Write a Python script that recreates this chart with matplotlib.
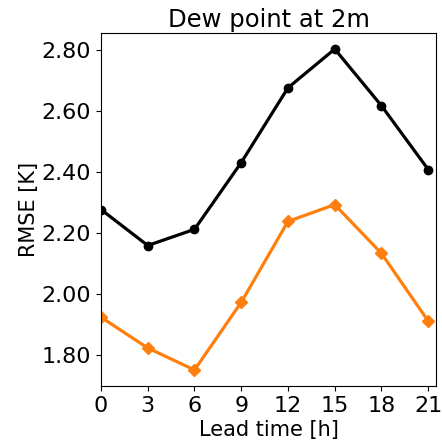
import numpy as np
import matplotlib
matplotlib.use('Agg')
from matplotlib import pyplot as plt

# lead times and RMSE values for the two models
lead_time = [0, 3, 6, 9, 12, 15, 18, 21]
rmse_ref = [2.277, 2.159, 2.212, 2.431, 2.676, 2.803, 2.617, 2.408]
rmse_new = [1.924, 1.823, 1.751, 1.973, 2.238, 2.293, 2.133, 1.911]

fig = plt.figure(figsize=(4.42, 4.40), dpi=100)
ax = fig.add_axes([0.2285, 0.1227, 0.758, 0.8023])

ax.plot(lead_time, rmse_ref, color='k', marker='o', markersize=6, linewidth=2.3)
ax.plot(lead_time, rmse_new, color='#ff7f0e', marker='D', markersize=6, linewidth=2.3)

ax.set_xlim(0, 21.5)
ax.set_xticks(lead_time)
ax.yaxis.set_major_formatter(matplotlib.ticker.FormatStrFormatter('%.2f'))
ax.tick_params(labelsize=16)
ax.set_xlabel('Lead time [h]', fontsize=15, labelpad=3)
ax.set_ylabel('RMSE [K]', fontsize=15, labelpad=2)
ax.set_title('Dew point at 2m', fontsize=17.5, pad=4)

plt.savefig('out.png', dpi=100)
